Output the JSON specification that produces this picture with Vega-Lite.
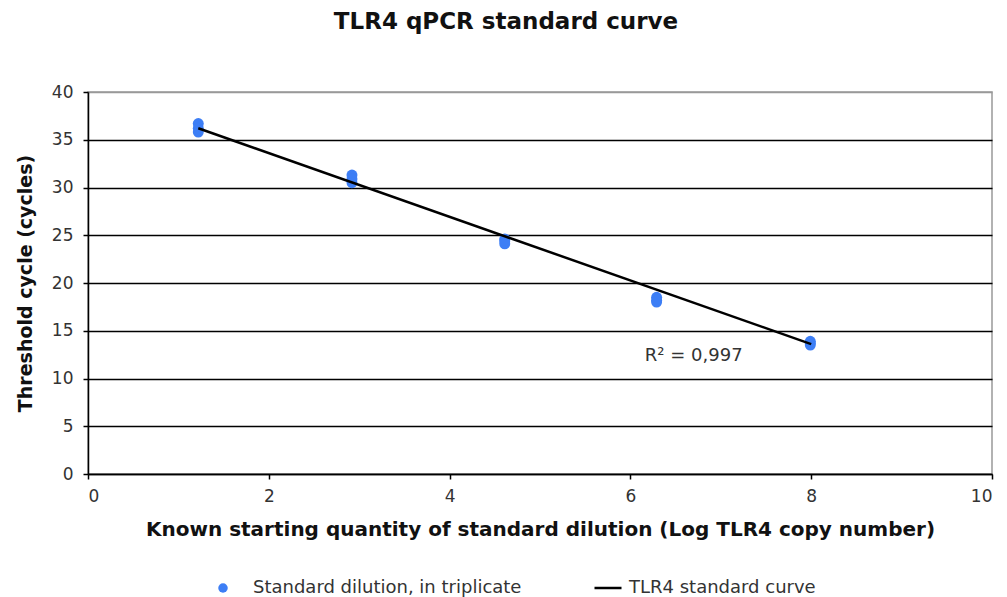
{
  "$schema": "https://vega.github.io/schema/vega-lite/v6.json",
  "width": 904,
  "height": 382,
  "autosize": {"type": "none"},
  "padding": {"left": 88, "top": 92, "right": 15, "bottom": 123},
  "background": "white",
  "config": {
    "font": "DejaVu Sans",
    "view": {"stroke": "#999999", "strokeWidth": 1.5}
  },
  "title": {
    "text": "TLR4 qPCR standard curve",
    "fontSize": 23,
    "fontWeight": "bold",
    "color": "#111111",
    "anchor": "middle",
    "frame": "group",
    "dx": -34,
    "offset": 49
  },
  "datasets": {
    "pts": [
      {"x": 1.22, "y": 36.7, "s": "Standard dilution, in triplicate"},
      {"x": 1.22, "y": 36.2, "s": "Standard dilution, in triplicate"},
      {"x": 1.22, "y": 35.8, "s": "Standard dilution, in triplicate"},
      {"x": 2.92, "y": 31.3, "s": "Standard dilution, in triplicate"},
      {"x": 2.92, "y": 30.9, "s": "Standard dilution, in triplicate"},
      {"x": 2.92, "y": 30.5, "s": "Standard dilution, in triplicate"},
      {"x": 4.61, "y": 24.6, "s": "Standard dilution, in triplicate"},
      {"x": 4.61, "y": 24.4, "s": "Standard dilution, in triplicate"},
      {"x": 4.61, "y": 24.1, "s": "Standard dilution, in triplicate"},
      {"x": 6.29, "y": 18.5, "s": "Standard dilution, in triplicate"},
      {"x": 6.29, "y": 18.2, "s": "Standard dilution, in triplicate"},
      {"x": 6.29, "y": 18.0, "s": "Standard dilution, in triplicate"},
      {"x": 7.99, "y": 13.9, "s": "Standard dilution, in triplicate"},
      {"x": 7.99, "y": 13.7, "s": "Standard dilution, in triplicate"},
      {"x": 7.99, "y": 13.5, "s": "Standard dilution, in triplicate"}
    ],
    "fit": [
      {"x": 1.22, "y": 36.2, "s": "TLR4 standard curve"},
      {"x": 8.0, "y": 13.6, "s": "TLR4 standard curve"}
    ],
    "lab": [
      {"x": 6.16, "y": 12.4, "t": "R² = 0,997"}
    ]
  },
  "layer": [
    {
      "data": {"name": "pts"},
      "mark": {"type": "point", "filled": true, "opacity": 1, "size": 120},
      "encoding": {
        "x": {
          "field": "x", "type": "quantitative",
          "scale": {"domain": [0, 10], "nice": false, "zero": true},
          "axis": {
            "values": [0, 2, 4, 6, 8, 10],
            "format": "d",
            "title": "Known starting quantity of standard dilution (Log TLR4 copy number)",
            "titleFontSize": 20, "titleFontWeight": "bold", "titleColor": "#111111",
            "titlePadding": 15,
            "labelFontSize": 17, "labelColor": "#333333", "labelPadding": 9,
            "grid": false,
            "domainColor": "#000000", "domainWidth": 1.5,
            "tickColor": "#000000", "tickSize": 5, "tickWidth": 1.5
          }
        },
        "y": {
          "field": "y", "type": "quantitative",
          "scale": {"domain": [0, 40], "nice": false},
          "axis": {
            "values": [0, 5, 10, 15, 20, 25, 30, 35, 40],
            "format": "d",
            "title": "Threshold cycle (cycles)",
            "titleFontSize": 19, "titleFontWeight": "bold", "titleColor": "#111111",
            "titlePadding": 16,
            "labelFontSize": 17, "labelColor": "#333333", "labelPadding": 10,
            "grid": true,
            "gridColor": {"condition": {"test": "datum.value == 40", "value": "#999999"}, "value": "#000000"},
            "gridWidth": 1.5,
            "domainColor": "#000000", "domainWidth": 1.5,
            "tickColor": "#000000", "tickSize": 5, "tickWidth": 1.5
          }
        },
        "color": {
          "field": "s", "type": "nominal",
          "scale": {"range": ["#3D7EF5"]},
          "legend": {
            "title": null, "orient": "none", "legendX": 126, "legendY": 487,
            "symbolType": "circle", "symbolSize": 90, "symbolStrokeWidth": 0,
            "labelFontSize": 18, "labelColor": "#333333", "labelOffset": 21, "labelLimit": 600, "padding": 0
          }
        }
      }
    },
    {
      "data": {"name": "fit"},
      "mark": {"type": "line", "strokeWidth": 2.5},
      "encoding": {
        "x": {"field": "x", "type": "quantitative"},
        "y": {"field": "y", "type": "quantitative"},
        "color": {
          "field": "s", "type": "nominal",
          "scale": {"range": ["#000000"]},
          "legend": {
            "title": null, "orient": "none", "legendX": 505, "legendY": 481,
            "symbolType": "stroke", "symbolSize": 730, "symbolStrokeWidth": 2.5,
            "labelFontSize": 18, "labelColor": "#333333", "labelOffset": 6, "labelLimit": 600, "padding": 0
          }
        }
      }
    },
    {
      "data": {"name": "lab"},
      "mark": {"type": "text", "align": "left", "baseline": "middle", "fontSize": 18, "color": "#333333"},
      "encoding": {
        "x": {"field": "x", "type": "quantitative"},
        "y": {"field": "y", "type": "quantitative"},
        "text": {"field": "t"}
      }
    }
  ],
  "resolve": {"scale": {"color": "independent"}}
}
